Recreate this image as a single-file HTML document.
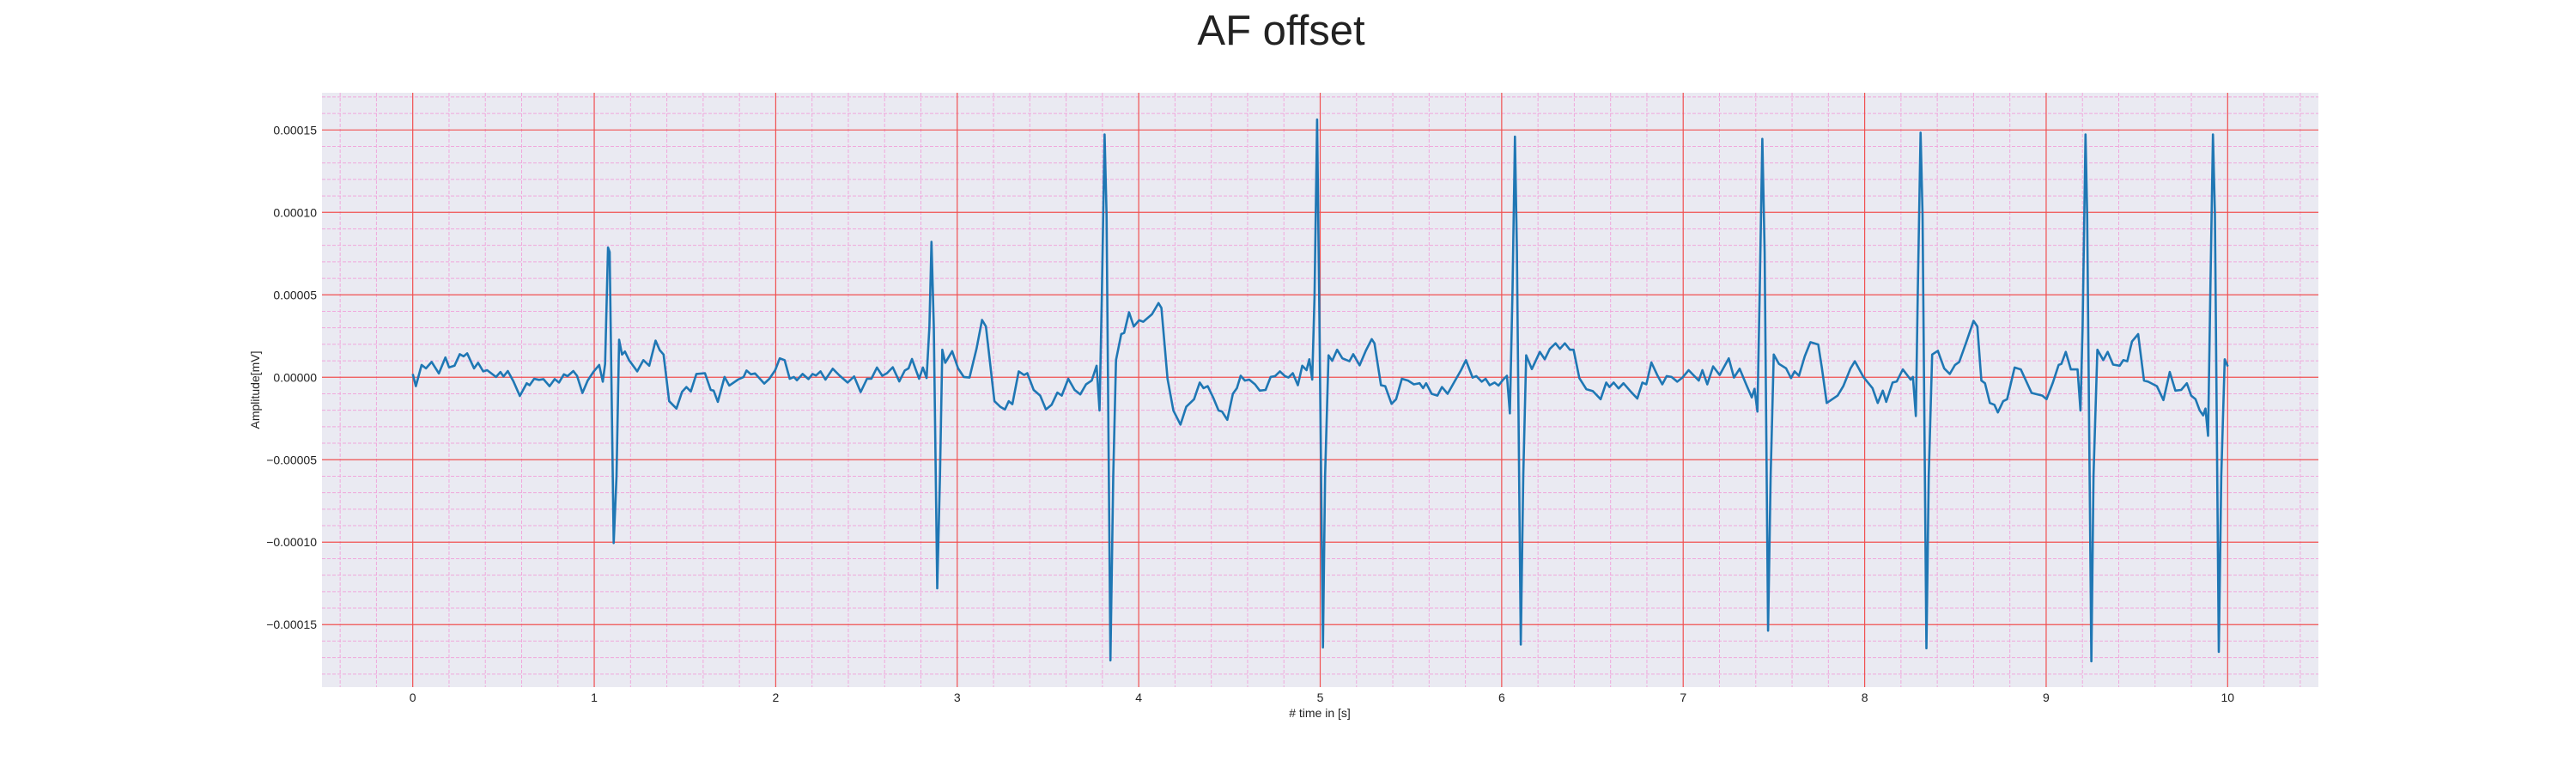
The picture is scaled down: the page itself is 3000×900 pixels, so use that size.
<!DOCTYPE html>
<html><head><meta charset="utf-8"><style>
html,body{margin:0;padding:0;background:#fff;}
svg{display:block;font-family:"Liberation Sans",sans-serif;}
</style></head><body>
<svg id="chart" width="3000" height="900" viewBox="0 0 3000 900">
<text x="1492" y="52" font-size="49" text-anchor="middle" fill="#222">AF offset</text>
<rect x="375" y="108" width="2325" height="692" fill="#eaeaf2"/>
<g id="grid"></g>
<g id="ticks"></g>
<g id="series"></g>
<text x="1537" y="835" font-size="14" text-anchor="middle" fill="#222"># time in [s]</text>
<text transform="translate(302,454) rotate(-90)" font-size="14" text-anchor="middle" fill="#222">Amplitude[mV]</text>
</svg>
<script>
const xTicks=[0,1,2,3,4,5,6,7,8,9,10];
const yTicks=[-0.00015,-0.0001,-0.00005,0,0.00005,0.0001,0.00015];
const yTickLabels=["\u22120.00015","\u22120.00010","\u22120.00005","0.00000","0.00005","0.00010","0.00015"];
const valueScale=1e-5;
const times=[0,0.017,0.049,0.073,0.104,0.144,0.18,0.2,0.23,0.259,0.28,0.30,0.338,0.36,0.388,0.41,0.459,0.483,0.50,0.524,0.554,0.59,0.628,0.644,0.669,0.696,0.72,0.754,0.782,0.806,0.833,0.853,0.885,0.905,0.935,0.964,0.995,1.027,1.047,1.06,1.076,1.085,1.107,1.123,1.137,1.153,1.169,1.192,1.237,1.271,1.303,1.338,1.361,1.382,1.413,1.453,1.484,1.508,1.532,1.563,1.61,1.642,1.658,1.681,1.718,1.744,1.792,1.823,1.839,1.863,1.886,1.937,1.965,1.997,2.022,2.049,2.077,2.1,2.117,2.148,2.18,2.203,2.222,2.247,2.274,2.314,2.353,2.396,2.432,2.468,2.503,2.527,2.558,2.587,2.613,2.645,2.681,2.711,2.732,2.751,2.771,2.79,2.811,2.831,2.847,2.858,2.871,2.89,2.905,2.918,2.934,2.972,3.005,3.036,3.068,3.106,3.137,3.158,3.205,3.237,3.263,3.284,3.304,3.339,3.368,3.386,3.421,3.457,3.489,3.52,3.552,3.576,3.612,3.647,3.678,3.71,3.741,3.768,3.784,3.797,3.812,3.823,3.844,3.86,3.875,3.904,3.92,3.947,3.973,4.002,4.025,4.073,4.109,4.125,4.159,4.191,4.23,4.262,4.305,4.336,4.357,4.38,4.412,4.44,4.459,4.488,4.519,4.541,4.562,4.585,4.609,4.641,4.667,4.699,4.727,4.751,4.778,4.806,4.825,4.849,4.877,4.901,4.925,4.94,4.956,4.969,4.983,4.996,5.015,5.027,5.046,5.066,5.093,5.122,5.161,5.182,5.217,5.251,5.284,5.299,5.335,5.358,5.393,5.418,5.45,5.484,5.516,5.548,5.567,5.584,5.614,5.646,5.671,5.702,5.737,5.776,5.803,5.84,5.86,5.89,5.911,5.934,5.961,5.982,6.008,6.029,6.045,6.06,6.073,6.084,6.105,6.119,6.135,6.166,6.21,6.237,6.265,6.297,6.321,6.348,6.376,6.396,6.428,6.466,6.502,6.545,6.576,6.594,6.617,6.644,6.671,6.712,6.747,6.775,6.797,6.825,6.857,6.885,6.909,6.936,6.967,6.996,7.03,7.086,7.106,7.133,7.165,7.201,7.251,7.28,7.311,7.349,7.378,7.393,7.409,7.422,7.436,7.449,7.468,7.482,7.499,7.528,7.567,7.594,7.614,7.638,7.67,7.701,7.744,7.764,7.791,7.851,7.882,7.922,7.946,7.993,8.043,8.072,8.1,8.119,8.154,8.177,8.21,8.253,8.266,8.282,8.293,8.308,8.319,8.34,8.353,8.372,8.403,8.438,8.469,8.498,8.521,8.561,8.6,8.621,8.643,8.663,8.69,8.715,8.734,8.763,8.785,8.826,8.86,8.92,8.979,9.002,9.037,9.069,9.084,9.108,9.136,9.173,9.189,9.201,9.217,9.226,9.249,9.261,9.282,9.315,9.339,9.369,9.405,9.425,9.447,9.473,9.507,9.539,9.562,9.61,9.646,9.681,9.712,9.744,9.775,9.799,9.823,9.846,9.865,9.878,9.892,9.905,9.919,9.93,9.951,9.965,9.984,10.001];
const amplitudes=[0.2,-0.54,0.75,0.54,0.93,0.23,1.2,0.6,0.7,1.4,1.27,1.45,0.54,0.88,0.36,0.43,0.02,0.32,0.05,0.38,-0.23,-1.13,-0.36,-0.48,-0.09,-0.16,-0.11,-0.54,-0.11,-0.32,0.18,0.07,0.38,0.09,-0.95,-0.2,0.32,0.75,-0.27,0.81,7.87,7.6,-10.05,-6.0,2.28,1.38,1.56,1.04,0.36,1.04,0.7,2.22,1.65,1.38,-1.45,-1.9,-0.88,-0.59,-0.86,0.2,0.25,-0.77,-0.81,-1.49,0.02,-0.5,-0.14,0.02,0.41,0.18,0.23,-0.38,-0.09,0.43,1.15,1.04,-0.09,0.02,-0.18,0.2,-0.11,0.2,0.11,0.36,-0.14,0.52,0.09,-0.32,0.05,-0.9,-0.09,-0.09,0.59,0.09,0.25,0.61,-0.25,0.41,0.54,1.11,0.48,-0.09,0.59,-0.05,3.08,8.21,3.08,-12.8,-5.97,1.67,0.88,1.58,0.54,0.02,-0.02,1.72,3.48,3.08,-1.45,-1.79,-1.95,-1.45,-1.63,0.36,0.14,0.25,-0.77,-1.11,-1.95,-1.67,-0.93,-1.11,-0.09,-0.77,-1.04,-0.43,-0.2,0.7,-2.01,4.89,14.73,9.86,-17.17,-5.97,1.04,2.62,2.69,3.94,3.08,3.46,3.37,3.82,4.5,4.2,-0.09,-2.01,-2.87,-1.79,-1.33,-0.32,-0.66,-0.54,-1.27,-2.01,-2.08,-2.58,-1.0,-0.66,0.09,-0.2,-0.14,-0.43,-0.81,-0.77,0.02,0.07,0.36,0.07,-0.02,0.25,-0.48,0.7,0.43,1.09,-0.14,4.89,15.63,3.08,-16.38,-5.97,1.33,1.0,1.67,1.15,0.97,1.4,0.72,1.61,2.31,2.06,-0.48,-0.54,-1.61,-1.33,-0.09,-0.2,-0.43,-0.36,-0.66,-0.36,-1.0,-1.11,-0.59,-1.0,-0.32,0.43,1.04,-0.02,0.07,-0.27,-0.09,-0.48,-0.32,-0.5,-0.14,0.09,-2.19,5.34,14.6,7.6,-16.2,-5.97,1.33,0.5,1.54,1.09,1.72,2.06,1.72,2.06,1.67,1.67,-0.05,-0.72,-0.84,-1.33,-0.32,-0.59,-0.32,-0.68,-0.36,-0.88,-1.29,-0.32,-0.43,0.9,0.14,-0.43,0.07,0.02,-0.27,-0.02,0.43,-0.2,0.43,-0.43,0.66,0.14,1.15,-0.02,0.52,-0.48,-1.22,-0.7,-2.08,5.34,14.46,7.6,-15.36,-5.97,1.38,0.81,0.54,-0.05,0.36,0.09,1.27,2.13,1.99,0.59,-1.56,-1.11,-0.54,0.54,0.97,0.02,-0.66,-1.56,-0.81,-1.49,-0.32,-0.25,0.48,-0.14,0.02,-2.35,5.34,14.84,9.86,-16.43,-5.97,1.38,1.61,0.54,0.2,0.75,0.93,2.17,3.42,3.08,-0.2,-0.36,-1.56,-1.67,-2.13,-1.45,-1.33,0.59,0.48,-0.95,-1.11,-1.33,-0.32,0.75,0.81,1.54,0.48,0.48,-2.01,3.08,14.73,9.86,-17.22,-5.97,1.67,1.04,1.54,0.77,0.7,1.04,0.97,2.17,2.62,-0.2,-0.27,-0.54,-1.38,0.32,-0.81,-0.77,-0.36,-1.11,-1.33,-2.01,-2.31,-1.9,-3.55,5.34,14.73,9.86,-16.65,-5.97,1.09,0.66];
const X0=375,X1=2700,Y0=108,Y1=800,XMIN=-0.5,XMAX=10.5,YMIN=-0.0001879,YMAX=0.00017255;
function xs(t){return X0+(t-XMIN)/(XMAX-XMIN)*(X1-X0);}
function ys(v){return Y1-(v-YMIN)/(YMAX-YMIN)*(Y1-Y0);}
const NS="http://www.w3.org/2000/svg";
const grid=document.getElementById('grid');
const tk=document.getElementById('ticks');
function line(parent,x1,y1,x2,y2,stroke,w,dash){const l=document.createElementNS(NS,'line');l.setAttribute('x1',x1);l.setAttribute('y1',y1);l.setAttribute('x2',x2);l.setAttribute('y2',y2);l.setAttribute('stroke',stroke);l.setAttribute('stroke-width',w);if(dash)l.setAttribute('stroke-dasharray',dash);parent.appendChild(l);return l;}
for(let i=-2;i<=52;i++){const t=i*0.2;if(i%5===0)continue;const x=xs(t);if(x<X0||x>X1)continue;
const l=line(grid,x,Y0,x,Y1,'#f0a8dc',1,'4,2');

}
for(let i=-18;i<=17;i++){if(i%5===0)continue;const y=ys(i*1e-5);if(y<Y0||y>Y1)continue;
const l=line(grid,X0,y,X1,y,'#f0a8dc',1,'4,2');

}
xTicks.forEach(t=>{const x=xs(t);
const l=line(grid,x,Y0,x,Y1,'#f05050',1.2);


const tx=document.createElementNS(NS,'text');tx.setAttribute('x',x);tx.setAttribute('y',817);tx.setAttribute('font-size','14');tx.setAttribute('text-anchor','middle');tx.setAttribute('fill','#222');tx.textContent=String(t);


tk.appendChild(tx);});
yTicks.forEach((v,i)=>{const y=ys(v);
const l=line(grid,X0,y,X1,y,'#f05050',1.2);


const tx=document.createElementNS(NS,'text');tx.setAttribute('x',369);tx.setAttribute('y',y+5);tx.setAttribute('font-size','14');tx.setAttribute('text-anchor','end');tx.setAttribute('fill','#222');tx.textContent=yTickLabels[i];


tk.appendChild(tx);});
const pts=times.map((t,i)=>xs(t).toFixed(1)+','+ys(amplitudes[i]*valueScale).toFixed(1)).join(' ');
const pl=document.createElementNS(NS,'polyline');
pl.setAttribute('points',pts);pl.setAttribute('fill','none');pl.setAttribute('stroke','#1f77b4');pl.setAttribute('stroke-width','2.6');pl.setAttribute('stroke-linejoin','round');


document.getElementById('series').appendChild(pl);
</script>
</body></html>
